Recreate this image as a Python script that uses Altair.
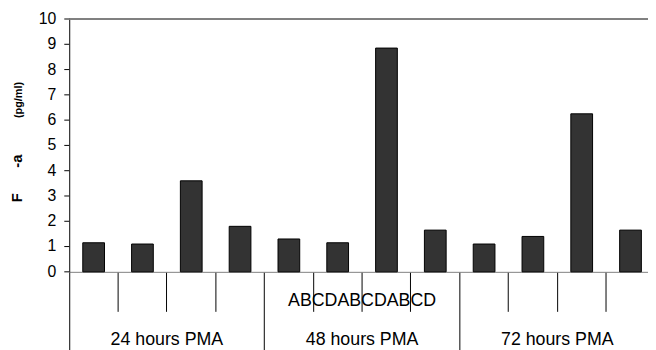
import altair as alt
import pandas as pd

groups = ["24 hours PMA", "48 hours PMA", "72 hours PMA"]
letters = ["A", "B", "C", "D"]
values = [1.15, 1.1, 3.6, 1.8, 1.3, 1.15, 8.85, 1.65, 1.1, 1.4, 6.25, 1.65]
y_ticks = [0, 1, 2, 3, 4, 5, 6, 7, 8, 9, 10]
letter_row = "ABCDABCDABCD"

cats = [f"{g}|{l}" for g in groups for l in letters]
df = pd.DataFrame({"cat": cats, "value": values})
grp_df = pd.DataFrame({"cat": [f"{g}|C" for g in groups], "label": groups})
mid_df = pd.DataFrame({"cat": [f"{groups[1]}|C"], "label": [letter_row]})
tick_df = pd.DataFrame({"v": y_ticks, "lab": [str(t) for t in y_ticks]})

FONT = "Liberation Sans"
xscale = alt.Scale(domain=cats, range=[0, 593], paddingInner=0, paddingOuter=0)
yscale = alt.Scale(domain=[0, 10], nice=False, zero=True)
yaxis = alt.Axis(labels=False, ticks=False, domainColor="black", title=None, grid=False)

bars = alt.Chart(df).mark_bar(
    size=22, fill="#333333", stroke="black", strokeWidth=1
).encode(
    x=alt.X("cat:N", scale=xscale, sort=cats, axis=alt.Axis(
        labels=False, title=None, domainColor="#808080", domainWidth=1,
        tickColor="black", tickWidth=1, bandPosition=0,
        tickSize={"condition": {"test": "indexof(datum.value, '|A') >= 0", "value": 80}, "value": 40},
    )),
    y=alt.Y("value:Q", scale=yscale, axis=yaxis),
)

top_rule = alt.Chart(df).mark_rule(color="#808080", strokeWidth=1).encode(
    x=alt.value(0), x2=alt.value(586), y=alt.value(0)
)

ytick_marks = alt.Chart(tick_df).mark_rule(color="black", strokeWidth=1).encode(
    x=alt.value(-5), x2=alt.value(0),
    y=alt.Y("v:Q", scale=yscale, axis=yaxis),
)

ytick_labels = alt.Chart(tick_df).mark_text(
    font=FONT, fontSize=16, color="black", align="right", baseline="middle"
).encode(
    x=alt.value(-13),
    y=alt.Y("v:Q", scale=yscale, axis=yaxis),
    text="lab:N",
)

mid_text = alt.Chart(mid_df).mark_text(
    font=FONT, fontSize=18, color="black", baseline="alphabetic", align="center"
).encode(
    x=alt.X("cat:N", scale=xscale, sort=cats, bandPosition=0),
    y=alt.value(291),
    text="label:N",
)

grp_text = alt.Chart(grp_df).mark_text(
    font=FONT, fontSize=18, color="black", baseline="alphabetic", align="center"
).encode(
    x=alt.X("cat:N", scale=xscale, sort=cats, bandPosition=0),
    y=alt.value(330),
    text="label:N",
)

title_parts = [("F", 15, 181), ("-a", 15, 144), ("(pg/ml)", 11, 82)]
title_layers = []
for txt, fs, ypos in title_parts:
    title_layers.append(
        alt.Chart(pd.DataFrame({"t": [txt]})).mark_text(
            font=FONT, fontSize=fs, fontWeight="bold", color="black",
            angle=270, align="center", baseline="alphabetic"
        ).encode(x=alt.value(-48), y=alt.value(ypos), text="t:N")
    )

chart = alt.layer(
    bars, top_rule, ytick_marks, ytick_labels, mid_text, grp_text, *title_layers
).properties(
    width=586, height=256,
    autosize=alt.AutoSizeParams(type="none"),
    padding={"left": 62, "top": 9, "right": 0, "bottom": 77},
).configure_view(stroke=None).configure_axis(grid=False)

chart.save("out.html", embed_options={"renderer": "svg", "actions": False})
